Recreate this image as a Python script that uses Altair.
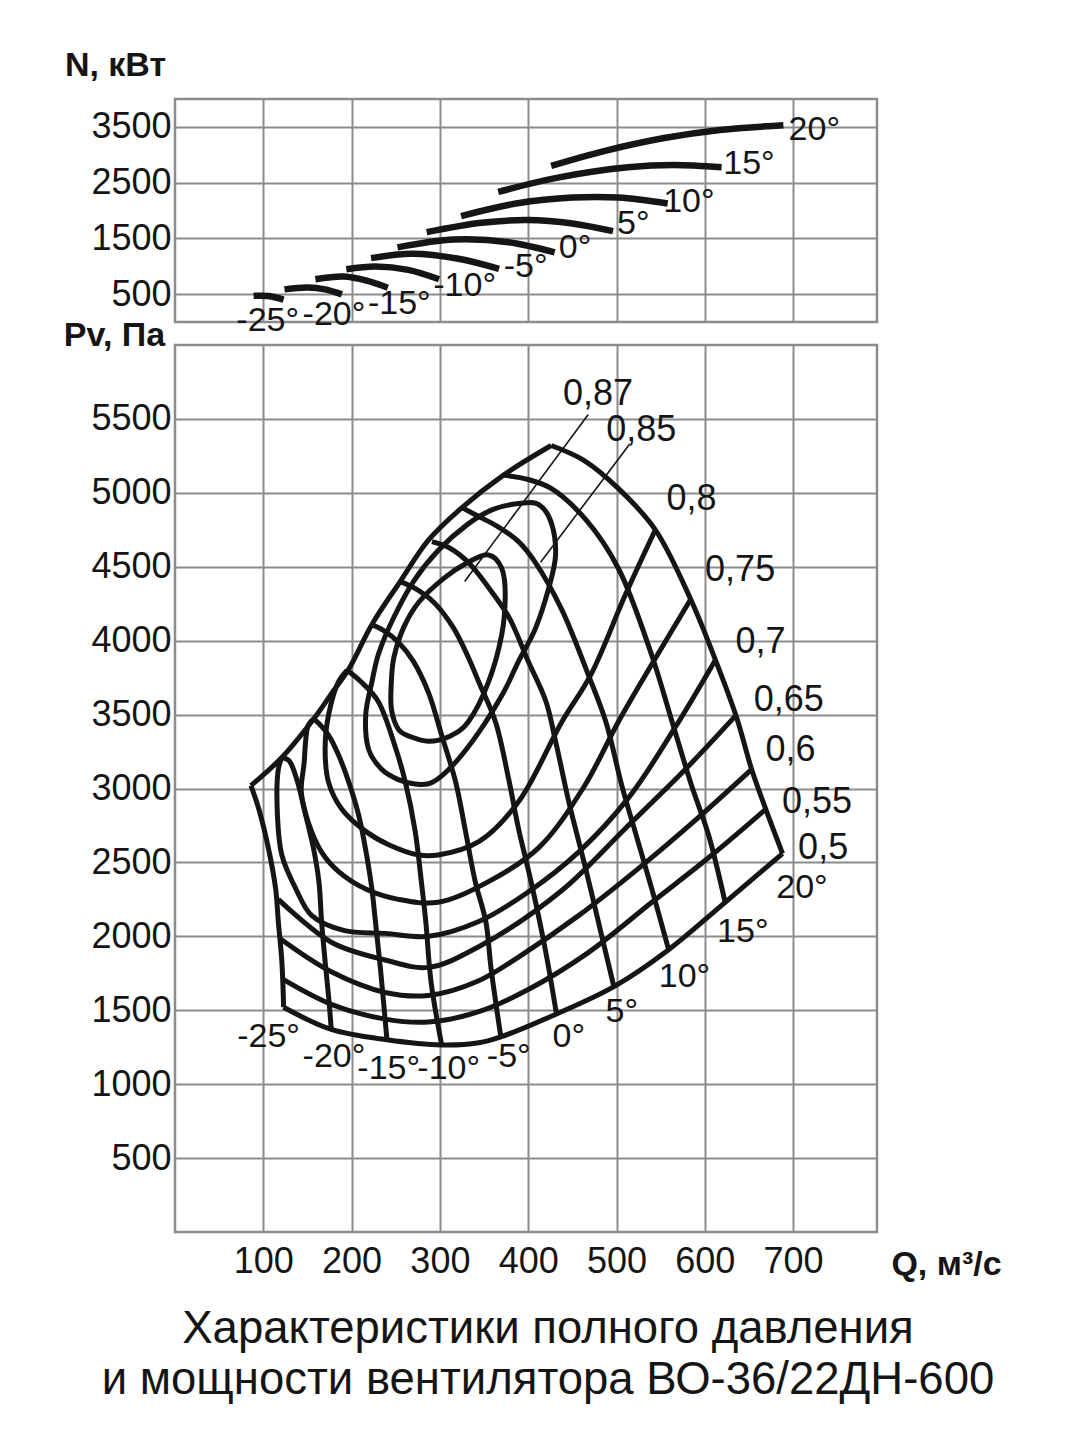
import altair as alt
import pandas as pd

FONT = "Liberation Sans, Arial, Helvetica, sans-serif"
INK = "#151515"
GRID = "#8c8c8c"

# ---------------- top panel: power N, kW ----------------
PWR_ANGLES = ["-25°", "-20°", "-15°", "-10°", "-5°", "0°", "5°", "10°", "15°", "20°"]
PWR_Q_M25 = [89, 106, 123]
PWR_N_M25 = [470, 465, 400]
PWR_Q_M20 = [124, 150, 170, 189]
PWR_N_M20 = [585, 620, 585, 495]
PWR_Q_M15 = [159, 191, 217, 241]
PWR_N_M15 = [766, 814, 742, 615]
PWR_Q_M10 = [194, 227, 264, 299]
PWR_N_M10 = [947, 995, 935, 766]
PWR_Q_M05 = [222, 269, 321, 367]
PWR_N_M05 = [1146, 1225, 1134, 953]
PWR_Q_000 = [252, 316, 378, 430]
PWR_N_000 = [1339, 1478, 1430, 1249]
PWR_Q_P05 = [285, 347, 399, 450, 496]
PWR_N_P05 = [1611, 1780, 1828, 1768, 1629]
PWR_Q_P10 = [324, 388, 450, 502, 558]
PWR_N_P10 = [1900, 2130, 2232, 2232, 2124]
PWR_Q_P15 = [366, 435, 513, 565, 619]
PWR_N_P15 = [2335, 2594, 2775, 2817, 2775]
PWR_Q_P20 = [426, 487, 554, 617, 689]
PWR_N_P20 = [2800, 3070, 3300, 3445, 3529]
PWR_LABEL_Q = [105, 180, 254, 328, 397, 453, 519, 582, 650, 724]
PWR_LABEL_N = [20, 125, 325, 645, 985, 1330, 1760, 2150, 2835, 3445]

# ---------------- bottom panel: total pressure Pv, Pa ----------------
SURGE_Q = [86, 121, 157, 177, 197, 223, 255, 287, 325, 372, 426]
SURGE_P = [3020, 3210, 3470, 3640, 3810, 4110, 4400, 4680, 4900, 5120, 5320]

ANG_Q_M25 = [86, 95, 106, 114, 117, 121, 123]
ANG_P_M25 = [3020, 2860, 2590, 2320, 2100, 1830, 1520]
ANG_Q_M20 = [121, 129, 138, 148, 157, 163, 166, 170, 174, 177]
ANG_P_M20 = [3210, 3190, 3060, 2820, 2590, 2370, 2100, 1830, 1590, 1370]
ANG_Q_M15 = [157, 163, 174, 185, 197, 208, 217, 223, 227, 233, 240]
ANG_P_M15 = [3470, 3440, 3360, 3230, 3040, 2820, 2550, 2320, 2100, 1760, 1300]
ANG_Q_M10 = [195, 211, 230, 250, 261, 272, 279, 284, 290, 302]
ANG_P_M10 = [3800, 3720, 3590, 3270, 3040, 2710, 2370, 2100, 1690, 1265]
ANG_Q_M05 = [222, 236, 253, 270, 287, 302, 318, 329, 340, 352, 358, 369]
ANG_P_M05 = [4110, 4070, 3990, 3860, 3650, 3360, 3040, 2710, 2370, 2100, 1780, 1320]
ANG_Q_000 = [255, 270, 293, 315, 332, 344, 363, 378, 389, 404, 420, 432]
ANG_P_000 = [4400, 4360, 4260, 4090, 3890, 3720, 3450, 3060, 2730, 2350, 1890, 1475]
ANG_Q_P05 = [291, 310, 332, 355, 378, 400, 420, 431, 446, 465, 483, 497]
ANG_P_P05 = [4670, 4630, 4530, 4360, 4160, 3860, 3590, 3320, 2910, 2460, 2010, 1660]
ANG_Q_P10 = [325, 344, 366, 389, 408, 438, 468, 488, 506, 522, 540, 559]
ANG_P_P10 = [4900, 4840, 4770, 4670, 4530, 4210, 3770, 3450, 3020, 2690, 2320, 1910]
ANG_Q_P15 = [372, 400, 426, 465, 502, 540, 562, 585, 604, 623]
ANG_P_P15 = [5120, 5090, 5030, 4820, 4490, 3900, 3470, 3020, 2690, 2230]
ANG_Q_P20 = [426, 463, 502, 544, 584, 612, 636, 653, 669, 688]
ANG_P_P20 = [5320, 5220, 5030, 4750, 4280, 3870, 3480, 3130, 2860, 2560]

EFF_Q_050 = [123, 177, 240, 302, 344, 369, 432, 497, 559, 623, 688]
EFF_P_050 = [1520, 1370, 1300, 1265, 1280, 1320, 1475, 1660, 1910, 2230, 2560]
EFF_Q_055 = [122, 177, 238, 287, 344, 400, 468, 540, 608, 669]
EFF_P_055 = [1710, 1540, 1440, 1420, 1490, 1640, 1890, 2230, 2550, 2860]
EFF_Q_060 = [120, 177, 238, 287, 344, 389, 457, 525, 590, 653]
EFF_P_060 = [1980, 1760, 1620, 1600, 1700, 1860, 2140, 2460, 2790, 3130]
EFF_Q_065 = [117, 177, 238, 287, 344, 438, 510, 578, 636]
EFF_P_065 = [2250, 1960, 1840, 1790, 1930, 2310, 2730, 3130, 3500]
EFF_Q_070 = [121, 117, 116, 121, 137, 155, 191, 238, 287, 344, 400, 457, 514, 565, 612]
EFF_P_070 = [3210, 3130, 2820, 2550, 2320, 2140, 2040, 2020, 2000, 2100, 2300, 2570, 2940, 3400, 3870]
EFF_Q_075 = [157, 151, 146, 143, 151, 166, 185, 216, 253, 298, 355, 412, 463, 502, 540, 584]
EFF_P_075 = [3470, 3430, 3160, 2980, 2770, 2570, 2440, 2320, 2250, 2230, 2370, 2600, 3010, 3450, 3840, 4280]
EFF_Q_080 = [195, 185, 174, 170, 174, 189, 216, 242, 276, 298, 344, 389, 438, 471, 510, 544]
EFF_P_080 = [3800, 3720, 3500, 3270, 3040, 2860, 2710, 2620, 2550, 2550, 2640, 2910, 3450, 3770, 4310, 4750]
EFF_Q_085 = [392, 412, 426, 431, 423, 408, 389, 372, 344, 315, 291, 272, 253, 234, 219, 216, 223, 231, 248, 270, 298, 332, 361]
EFF_P_085 = [4930, 4920, 4800, 4580, 4350, 4080, 3860, 3650, 3380, 3160, 3040, 3030, 3060, 3130, 3270, 3500, 3720, 3920, 4160, 4400, 4610, 4790, 4890]
EFF_Q_087 = [355, 370, 374, 370, 355, 332, 310, 287, 267, 253, 245, 245, 248, 259, 276, 304, 332]
EFF_P_087 = [4580, 4490, 4310, 4040, 3720, 3450, 3350, 3320, 3350, 3400, 3540, 3720, 3890, 4090, 4260, 4420, 4530]

LEAD_Q_087 = [328, 468]
LEAD_P_087 = [4400, 5530]
LEAD_Q_085 = [414, 515]
LEAD_P_085 = [4530, 5330]

EFF_LABELS = ["0,87", "0,85", "0,8", "0,75", "0,7", "0,65", "0,6", "0,55", "0,5"]
EFF_LABEL_Q = [479, 528, 585, 640, 663, 695, 697, 727, 734]
EFF_LABEL_P = [5670, 5425, 4960, 4480, 3990, 3600, 3260, 2910, 2600]
ANG_LABELS = ["20°", "15°", "10°", "5°", "0°", "-5°", "-10°", "-15°", "-20°", "-25°"]
ANG_LABEL_Q = [710, 643, 577, 506, 446, 378, 310, 242, 180, 106]
ANG_LABEL_P = [2330, 2030, 1725, 1490, 1320, 1185, 1100, 1100, 1185, 1320]

Q_TICKS = [100, 200, 300, 400, 500, 600, 700]
N_TICKS = [500, 1000, 1500, 2000, 2500, 3000, 3500]
P_TICKS = [500, 1000, 1500, 2000, 2500, 3000, 3500, 4000, 4500, 5000, 5500]
CAPTION = ["Характеристики полного давления", "и мощности вентилятора ВО-36/22ДН-600"]


def frame(name, qs, vs, col):
    return pd.DataFrame({"Q": qs, col: vs, "curve": name, "i": list(range(len(qs)))})


pwr_series = [
    (PWR_Q_M25, PWR_N_M25), (PWR_Q_M20, PWR_N_M20), (PWR_Q_M15, PWR_N_M15),
    (PWR_Q_M10, PWR_N_M10), (PWR_Q_M05, PWR_N_M05), (PWR_Q_000, PWR_N_000),
    (PWR_Q_P05, PWR_N_P05), (PWR_Q_P10, PWR_N_P10), (PWR_Q_P15, PWR_N_P15),
    (PWR_Q_P20, PWR_N_P20),
]
pwr_df = pd.concat([frame(a, q, n, "N") for a, (q, n) in zip(PWR_ANGLES, pwr_series)])
pwr_lab = pd.DataFrame({"Q": PWR_LABEL_Q, "N": PWR_LABEL_N, "t": PWR_ANGLES})

open_series = [
    ("surge", SURGE_Q, SURGE_P),
    ("a-25", ANG_Q_M25, ANG_P_M25), ("a-20", ANG_Q_M20, ANG_P_M20),
    ("a-15", ANG_Q_M15, ANG_P_M15), ("a-10", ANG_Q_M10, ANG_P_M10),
    ("a-5", ANG_Q_M05, ANG_P_M05), ("a0", ANG_Q_000, ANG_P_000),
    ("a5", ANG_Q_P05, ANG_P_P05), ("a10", ANG_Q_P10, ANG_P_P10),
    ("a15", ANG_Q_P15, ANG_P_P15), ("a20", ANG_Q_P20, ANG_P_P20),
    ("e50", EFF_Q_050, EFF_P_050), ("e55", EFF_Q_055, EFF_P_055),
    ("e60", EFF_Q_060, EFF_P_060), ("e65", EFF_Q_065, EFF_P_065),
    ("e70", EFF_Q_070, EFF_P_070), ("e75", EFF_Q_075, EFF_P_075),
    ("e80", EFF_Q_080, EFF_P_080),
]
open_df = pd.concat([frame(n, q, p, "P") for n, q, p in open_series])
closed_df = pd.concat([frame("e85", EFF_Q_085, EFF_P_085, "P"),
                       frame("e87", EFF_Q_087, EFF_P_087, "P")])
lead_df = pd.concat([frame("l87", LEAD_Q_087, LEAD_P_087, "P"),
                     frame("l85", LEAD_Q_085, LEAD_P_085, "P")])
eff_lab = pd.DataFrame({"Q": EFF_LABEL_Q, "P": EFF_LABEL_P, "t": EFF_LABELS})
ang_lab = pd.DataFrame({"Q": ANG_LABEL_Q, "P": ANG_LABEL_P, "t": ANG_LABELS})

xs = alt.Scale(domain=[0, 795], nice=False, zero=False)
ys_top = alt.Scale(domain=[0, 4000], nice=False)
ys_bot = alt.Scale(domain=[0, 6000], nice=False)

x_top_axis = alt.Axis(values=Q_TICKS, labels=False, ticks=False, domain=False, title=None,
                      grid=True, gridColor=GRID, gridWidth=2, gridOpacity=1)
x_bot_axis = alt.Axis(values=Q_TICKS, ticks=False, tickSize=0, domain=False, grid=True,
                      gridColor=GRID, gridWidth=2, gridOpacity=1, labelFont=FONT,
                      labelFontSize=36, labelColor=INK, labelPadding=12,
                      title="Q, м³/с", titleFont=FONT, titleFontSize=34, titleFontWeight="bold",
                      titleColor=INK, titleX=771, titleY=32, titleAlign="center",
                      titleBaseline="middle", titleAnchor="start")
y_top_axis = alt.Axis(values=N_TICKS, ticks=False, tickSize=0, domain=False, grid=True,
                      gridColor=GRID, gridWidth=2, gridOpacity=1, format="d",
                      labelExpr="datum.value % 1000 == 500 ? datum.label : ''",
                      labelFont=FONT, labelFontSize=36, labelColor=INK, labelPadding=4,
                      title="N, кВт", titleFont=FONT, titleFontSize=34, titleFontWeight="bold",
                      titleColor=INK, titleAngle=0, titleX=-60, titleY=-34,
                      titleAlign="center", titleBaseline="middle", titleAnchor="start")
y_bot_axis = alt.Axis(values=P_TICKS, ticks=False, tickSize=0, domain=False, grid=True,
                      gridColor=GRID, gridWidth=2, gridOpacity=1, format="d",
                      labelFont=FONT, labelFontSize=36, labelColor=INK, labelPadding=4,
                      title="Pv, Па", titleFont=FONT, titleFontSize=34, titleFontWeight="bold",
                      titleColor=INK, titleAngle=0, titleX=-61, titleY=-10,
                      titleAlign="center", titleBaseline="middle", titleAnchor="start")

top_lines = alt.Chart(pwr_df).mark_line(color=INK, strokeWidth=6.5, interpolate="catmull-rom").encode(
    x=alt.X("Q:Q", scale=xs, axis=x_top_axis),
    y=alt.Y("N:Q", scale=ys_top, axis=y_top_axis),
    detail="curve:N",
    order="i:Q",
)
top_text = alt.Chart(pwr_lab).mark_text(font=FONT, fontSize=34, color=INK, align="center",
                                        baseline="middle").encode(
    x=alt.X("Q:Q", scale=xs), y=alt.Y("N:Q", scale=ys_top), text="t:N")
top = alt.layer(top_lines, top_text).properties(width=702, height=223)

bot_open = alt.Chart(open_df).mark_line(color=INK, strokeWidth=5, interpolate="catmull-rom").encode(
    x=alt.X("Q:Q", scale=xs, axis=x_bot_axis),
    y=alt.Y("P:Q", scale=ys_bot, axis=y_bot_axis),
    detail="curve:N",
    order="i:Q",
)
bot_closed = alt.Chart(closed_df).mark_line(color=INK, strokeWidth=5, interpolate="cardinal-closed").encode(
    x=alt.X("Q:Q", scale=xs), y=alt.Y("P:Q", scale=ys_bot), detail="curve:N", order="i:Q")
bot_lead = alt.Chart(lead_df).mark_line(color=INK, strokeWidth=1.6).encode(
    x=alt.X("Q:Q", scale=xs), y=alt.Y("P:Q", scale=ys_bot), detail="curve:N", order="i:Q")
eff_text = alt.Chart(eff_lab).mark_text(font=FONT, fontSize=36, color=INK, align="center",
                                        baseline="middle").encode(
    x=alt.X("Q:Q", scale=xs), y=alt.Y("P:Q", scale=ys_bot), text="t:N")
ang_text = alt.Chart(ang_lab).mark_text(font=FONT, fontSize=34, color=INK, align="center",
                                        baseline="middle").encode(
    x=alt.X("Q:Q", scale=xs), y=alt.Y("P:Q", scale=ys_bot), text="t:N")

bottom = alt.layer(bot_open, bot_closed, bot_lead, eff_text, ang_text).properties(
    width=702, height=887,
    title=alt.TitleParams(text=CAPTION, orient="bottom", anchor="middle", fontSize=45.5,
                          font=FONT, fontWeight="normal", color=INK, offset=26, dx=22,
                          lineHeight=51),
)

chart = alt.vconcat(top, bottom, spacing=23, bounds="flush").properties(
    padding={"left": 54, "top": 38, "right": 10, "bottom": 10}
).configure_view(stroke=GRID, strokeWidth=2.5)

chart.save("out.html", embed_options={"renderer": "svg", "actions": False})
